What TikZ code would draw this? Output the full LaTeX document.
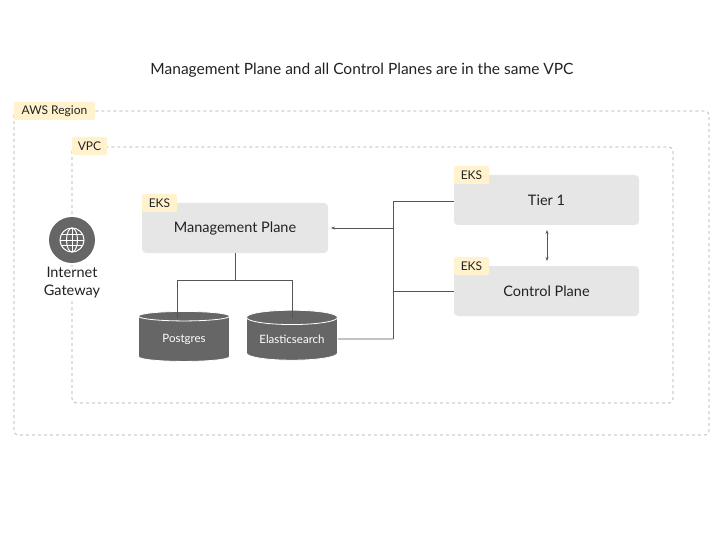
\documentclass[tikz,border=0pt]{standalone}
\usepackage{fontspec}
\setmainfont{Lato}
\usetikzlibrary{shapes.geometric,arrows.meta}
\definecolor{tagc}{HTML}{FFF2CC}
\definecolor{boxc}{HTML}{E6E6E6}
\definecolor{dk}{HTML}{666666}
\definecolor{ln}{HTML}{555555}
\definecolor{txt}{HTML}{222222}
\begin{document}
\begin{tikzpicture}[x=1pt,y=-1pt,
  zone/.style={draw=gray!70,dashed,rounded corners=4pt,line width=0.6pt},
  tag/.style={fill=tagc,rounded corners=1.5pt,inner sep=0pt,font=\fontsize{12}{14}\selectfont,text=txt},
  box/.style={fill=boxc,rounded corners=4pt,inner sep=0pt,minimum height=50pt,font=\fontsize{14.5}{16}\selectfont,text=txt},
  db/.style={cylinder,shape border rotate=90,aspect=0.22,fill=dk,draw=white,line width=0.8pt,minimum width=91pt,minimum height=50pt,text=white,font=\fontsize{11.5}{13}\selectfont,inner sep=0pt},
  wire/.style={draw=ln,line width=0.7pt},
  arr/.style={wire,-{Stealth[length=4pt,width=3pt]}}]
\useasboundingbox (0,0) rectangle (720,540);
\node[font=\fontsize{15.5}{18}\selectfont,text=txt] (title) at (362,70) {Management Plane and all Control Planes are in the same VPC};
\draw[zone] (14,111) rectangle (709,435);
\node[tag,minimum width=81pt,minimum height=18pt] (aws) at (54.5,111) {AWS Region};
\draw[zone] (72,147) rectangle (673,403);
\node[tag,minimum width=35pt,minimum height=18pt] (vpc) at (89.5,146) {VPC};
\node[box,minimum width=186pt] (mp) at (235,228) {Management Plane};
\node[tag,minimum width=35pt,minimum height=18pt] (t1) at (159.5,203) {EKS};
\node[box,minimum width=185pt] (tier) at (546.5,200) {Tier 1};
\node[tag,minimum width=35pt,minimum height=18pt] (t2) at (471.5,175) {EKS};
\node[box,minimum width=185pt] (cp) at (546.5,291) {Control Plane};
\node[tag,minimum width=35pt,minimum height=18pt] (t3) at (471.5,266) {EKS};
\node[circle,fill=dk,minimum size=46pt,inner sep=0pt] (gw) at (72,240) {};
\draw[white,line width=1pt] (gw.center) circle (12pt);
\draw[white,line width=1pt] (gw.center) ellipse (5.5pt and 12pt);
\draw[white,line width=1pt] ([xshift=-12pt]gw.center) -- ([xshift=12pt]gw.center);
\draw[white,line width=1pt] ([xshift=-11pt,yshift=5.5pt]gw.center) -- ([xshift=11pt,yshift=5.5pt]gw.center);
\draw[white,line width=1pt] ([xshift=-11pt,yshift=-5.5pt]gw.center) -- ([xshift=11pt,yshift=-5.5pt]gw.center);
\draw[white,line width=1pt] ([yshift=-12pt]gw.center) -- ([yshift=12pt]gw.center);
\node[align=center,font=\fontsize{14.5}{18}\selectfont,text=txt,fill=white,inner sep=1pt] (gwl) at (72,283) {Internet\\Gateway};
\node[db] (pg) at (184,339) {Postgres};
\node[db] (es) at (292,339) {Elasticsearch};
\coordinate (j) at (235,280);
\draw[wire] (mp.south) -- (j);
\draw[wire] (177,280) -- (292,280);
\draw[wire] (177,280) -- (177,318);
\draw[wire] (292,280) -- (292,318);
\coordinate (b1) at (393,201);
\coordinate (b2) at (393,339);
\draw[wire] (b1) -- (b2);
\draw[wire] (b1) -- (tier.west|-b1);
\draw[wire] (393,291) -- (cp.west);
\draw[wire] (es.east) -- (b2);
\draw[arr] (393,228) -- (331,228);
\draw[wire,{Stealth[length=4pt,width=3pt]}-{Stealth[length=4pt,width=3pt]}] (547,230) -- (547,261);
\end{tikzpicture}
\end{document}
